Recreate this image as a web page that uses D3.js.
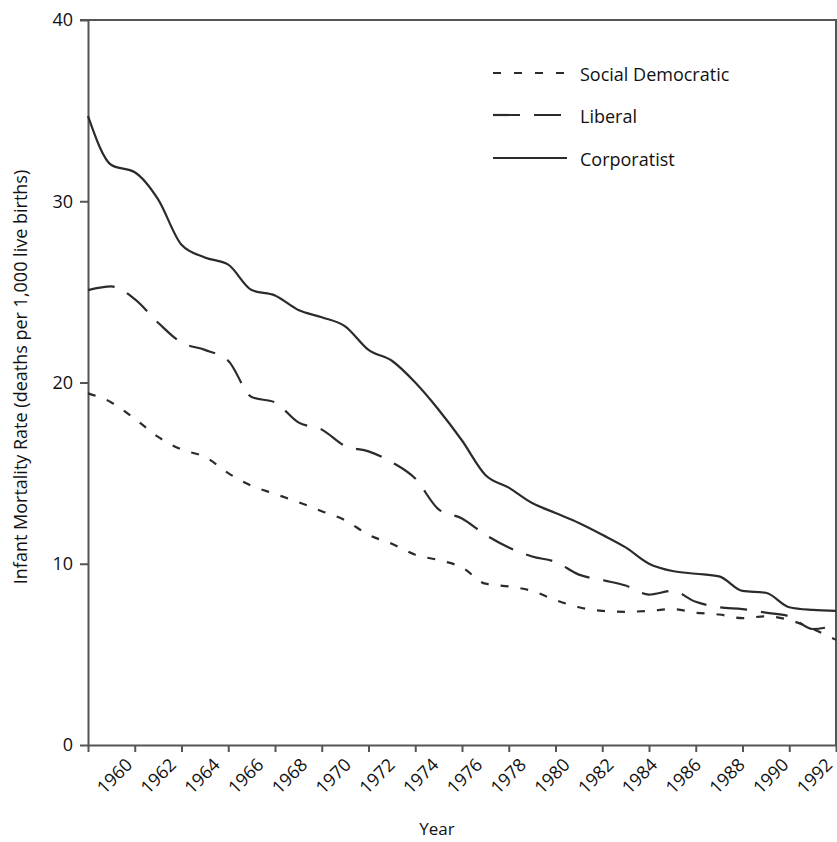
<!DOCTYPE html>
<html>
<head>
<meta charset="utf-8">
<script src="https://cdn.jsdelivr.net/npm/d3@7"></script>
<style>
  html, body { margin: 0; padding: 0; background: #fff; }
  svg { display: block; font-family: "Open Sans", sans-serif; }
</style>
</head>
<body>
<svg id="chart" width="837" height="842"></svg>
<script>
// ---- data ----
const years = d3.range(1960, 1993);
const socialDemocratic = [19.4, 18.9, 18.0, 17.0, 16.3, 15.9, 15.0, 14.3, 13.85, 13.4,
  12.9, 12.4, 11.6, 11.1, 10.5, 10.2, 9.8, 8.9, 8.75, 8.5,
  8.0, 7.6, 7.4, 7.35, 7.4, 7.5, 7.3, 7.2, 7.0, 7.1,
  6.9, 6.4, 5.8];
const liberal = [25.1, 25.3, 24.6, 23.3, 22.2, 21.8, 21.2, 19.2, 18.9, 17.8,
  17.4, 16.5, 16.2, 15.6, 14.7, 13.0, 12.5, 11.6, 10.9, 10.4,
  10.1, 9.4, 9.1, 8.8, 8.3, 8.5, 7.9, 7.6, 7.5, 7.3,
  7.1, 6.4, 6.6];
const corporatist = [34.7, 32.0, 31.6, 30.1, 27.6, 26.9, 26.5, 25.1, 24.8, 24.0,
  23.6, 23.1, 21.8, 21.2, 20.0, 18.5, 16.8, 14.9, 14.2, 13.35,
  12.8, 12.25, 11.6, 10.9, 10.0, 9.6, 9.45, 9.3, 8.5, 8.4,
  7.6, 7.45, 7.4];
const seriesNames = ["Social Democratic", "Liberal", "Corporatist"];
const xTickYears = d3.range(1960, 1993, 2);
const yTicks = [0, 10, 20, 30, 40];
const yTitle = "Infant Mortality Rate (deaths per 1,000 live births)";
const xTitle = "Year";

(function () {
// ---- layout ----
const pLeft = 88, pRight = 836, pTop = 20, pBottom = 745;
const svg = d3.select("#chart");
const x = d3.scaleLinear().domain([1960, 1992]).range([pLeft, pRight]);
const xLabel = d3.scaleLinear().domain([1960, 1992]).range([133, 833]);
const y = d3.scaleLinear().domain([0, 40]).range([pBottom, pTop]);

const axisColor = "#555";
const lineColor = "#2b2b2b";
const dashes = { "Social Democratic": "8,12", "Liberal": "27,14", "Corporatist": null };
const seriesData = { "Social Democratic": socialDemocratic, "Liberal": liberal, "Corporatist": corporatist };

// frame: top and right borders
svg.append("line").attr("x1", 80).attr("x2", pRight + 1).attr("y1", pTop).attr("y2", pTop)
  .attr("stroke", axisColor).attr("stroke-width", 2);
svg.append("line").attr("x1", pRight).attr("x2", pRight).attr("y1", pTop).attr("y2", pBottom)
  .attr("stroke", axisColor).attr("stroke-width", 2);

// y axis
const gy = svg.append("g").attr("transform", `translate(${pLeft},0)`)
  .call(d3.axisLeft(y).tickValues(yTicks).tickSize(8).tickSizeOuter(0).tickPadding(7));
gy.select(".domain").attr("stroke", axisColor).attr("stroke-width", 2);
gy.selectAll(".tick line").attr("stroke", axisColor).attr("stroke-width", 2);
gy.selectAll(".tick text").attr("font-size", 18).attr("fill", "#111")
  .attr("font-family", "Open Sans, sans-serif");

// x axis (tick marks)
const gx = svg.append("g").attr("transform", `translate(0,${pBottom})`)
  .call(d3.axisBottom(x).tickValues(xTickYears).tickSize(7).tickSizeOuter(0).tickFormat(""));
gx.select(".domain").attr("stroke", axisColor).attr("stroke-width", 2);
gx.selectAll(".tick line").attr("stroke", axisColor).attr("stroke-width", 2);

// x axis labels (rotated)
const gxl = svg.append("g").attr("transform", `translate(0,766)`)
  .call(d3.axisBottom(xLabel).tickValues(xTickYears).tickSize(0).tickFormat(d3.format("d")));
gxl.select(".domain").remove();
gxl.selectAll(".tick text")
  .attr("y", 0).attr("dy", 0).attr("x", 0)
  .attr("text-anchor", "end")
  .attr("transform", "rotate(-45)")
  .attr("font-size", 18).attr("fill", "#111")
  .attr("font-family", "Open Sans, sans-serif");

// lines
const line = d3.line().x((d, i) => x(years[i])).y(d => y(d)).curve(d3.curveMonotoneX);
seriesNames.forEach(name => {
  svg.append("path")
    .datum(seriesData[name])
    .attr("d", line)
    .attr("fill", "none")
    .attr("stroke", lineColor)
    .attr("stroke-width", 2.2)
    .attr("stroke-dasharray", dashes[name]);
});

// legend
const legendY = [73, 115, 158];
const lg = svg.append("g");
seriesNames.forEach((name, i) => {
  lg.append("line").attr("x1", 493).attr("x2", 567).attr("y1", legendY[i]).attr("y2", legendY[i])
    .attr("stroke", lineColor).attr("stroke-width", 2.2)
    .attr("stroke-dasharray", name === "Social Democratic" ? "8,13" : dashes[name]);
  lg.append("text").attr("x", 580).attr("y", legendY[i] + 7.5)
    .attr("font-size", 18).attr("fill", "#111").text(name);
});

// axis titles
svg.append("text").attr("x", 437).attr("y", 835).attr("text-anchor", "middle")
  .attr("font-size", 17).attr("fill", "#111").text(xTitle);
svg.append("text").attr("transform", "translate(27,377) rotate(-90)")
  .attr("text-anchor", "middle").attr("font-size", 18).attr("fill", "#111").text(yTitle);
})();
</script>
</body>
</html>
